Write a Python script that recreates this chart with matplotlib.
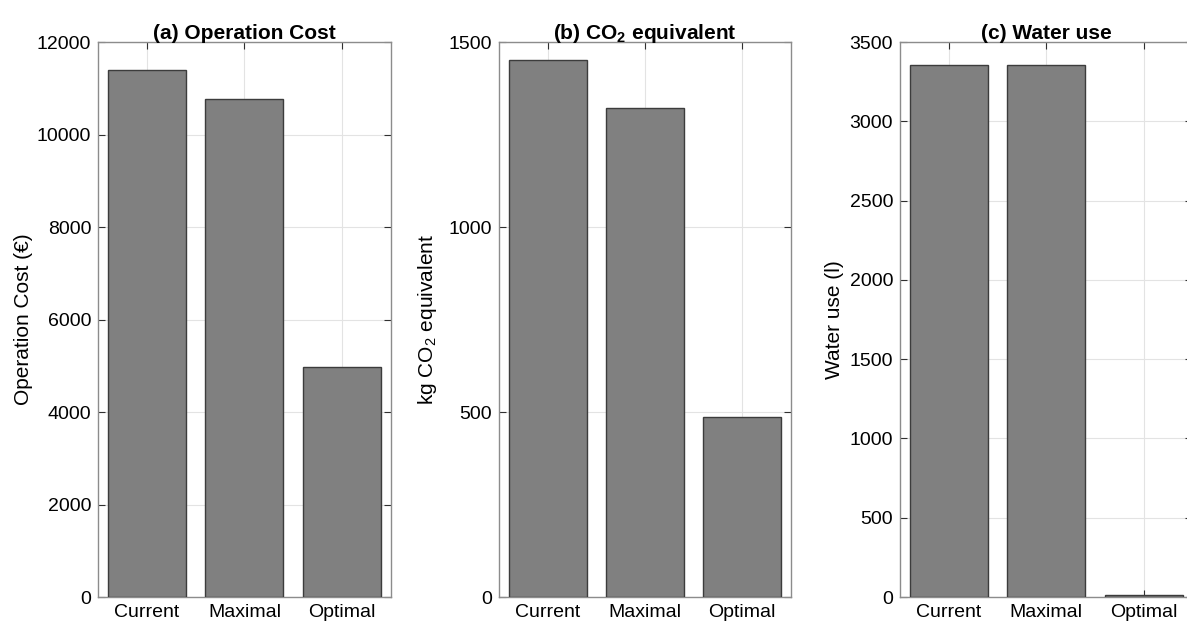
import matplotlib.pyplot as plt

plt.rcParams["font.family"] = ["Liberation Sans", "DejaVu Sans"]

scenarios = ["Current", "Maximal", "Optimal"]
operation_cost = [11390, 10780, 4970]
co2_equivalent = [1453, 1321, 487]
water_use = [3355, 3355, 12]

panels = [
    ("(a) Operation Cost", "Operation Cost (€)", operation_cost, 12000, 2000),
    ("(b) CO$_\\mathregular{2}$ equivalent", "kg CO$_\\mathregular{2}$ equivalent", co2_equivalent, 1500, 500),
    ("(c) Water use", "Water use (l)", water_use, 3500, 500),
]

# axes boxes in figure fractions (left, bottom, width, height)
boxes = [
    (0.0828, 0.0478, 0.2463, 0.885),
    (0.4204, 0.0478, 0.2457, 0.885),
    (0.7582, 0.0478, 0.2463, 0.885),
]
# y label x position in axes coordinates
label_x = [-0.224, -0.205, -0.192]

fig = plt.figure(figsize=(11.87, 6.27), dpi=100)

for (title, ylabel, values, ymax, step), box, lx in zip(panels, boxes, label_x):
    ax = fig.add_axes(box)
    x = list(range(1, len(scenarios) + 1))
    ax.bar(x, values, width=0.8, color="#808080", edgecolor="#3c3c3c",
           linewidth=1.0, zorder=3)
    ax.set_xlim(0.5, 3.5)
    ax.set_ylim(0, ymax)
    ax.set_xticks(x)
    ax.set_xticklabels(scenarios)
    ax.set_yticks(range(0, ymax + 1, step))
    ax.grid(True, color="#e3e3e3", linewidth=0.8, zorder=0)
    ax.tick_params(direction="in", length=5, width=0.8, color="#303030",
                   top=True, right=True, labelsize=14, pad=5)
    for spine in ax.spines.values():
        spine.set_color("#8c8c8c")
        spine.set_linewidth(1.0)
    ax.set_title(title, fontsize=15, fontweight="bold", pad=2)
    ax.set_ylabel(ylabel, fontsize=15)
    ax.yaxis.set_label_coords(lx, 0.5)

fig.savefig("out.png", dpi=100)
